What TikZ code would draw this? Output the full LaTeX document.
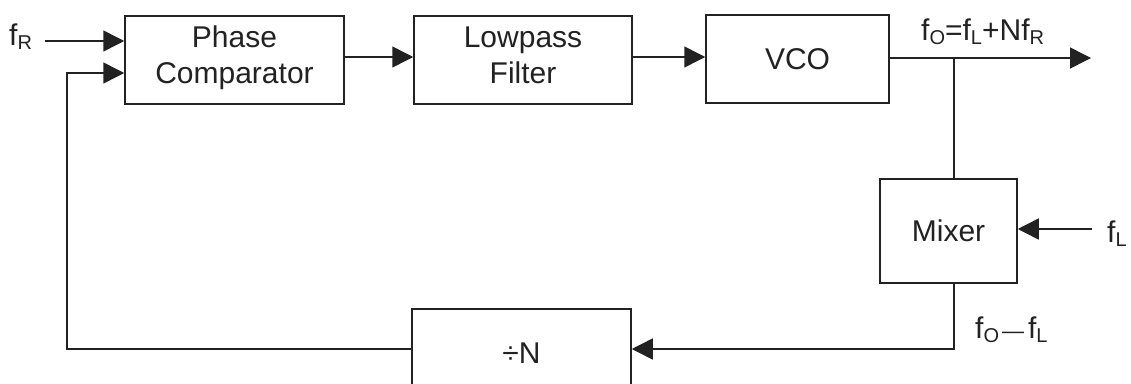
\documentclass[tikz,border=0pt]{standalone}
\usepackage{fontspec}
\setmainfont{Liberation Sans}
\usetikzlibrary{arrows.meta}
% lowered, smaller subscript for signal names
\newcommand{\sbs}[1]{\raisebox{-4.5pt}{\fontsize{20}{20}\selectfont #1}}
\definecolor{ink}{HTML}{222222}

\begin{document}
\begin{tikzpicture}[x=1pt,y=-1pt,
  blk/.style={draw=ink, line width=1.5pt, fill=white, inner sep=0pt, text=ink,
              font=\fontsize{30}{36}\selectfont, align=center},
  wire/.style={draw=ink, line width=1.5pt},
  arr/.style={wire, -{Triangle[length=21pt,width=21pt]}},
  lbl/.style={inner sep=0pt, text=ink, font=\fontsize{30}{34}\selectfont, anchor=base west}]
\clip (0,0) rectangle (1131,383);
\fill[white] (0,0) rectangle (1131,383);

% blocks of the loop
\node[blk, minimum width=219pt, minimum height=88pt] (pc) at (234.5,60)
  {\rule{0pt}{22pt}Phase\\Comparator\rule[-12pt]{0pt}{12pt}};
\node[blk, minimum width=218pt, minimum height=88pt] (lp) at (523,60)
  {\rule{0pt}{22pt}Lowpass\\Filter\rule[-12pt]{0pt}{12pt}};
\node[blk, minimum width=183pt, minimum height=88pt] (vco) at (797.5,59) {VCO};
\node[blk, minimum width=137pt, minimum height=104pt] (mix) at (948.5,231) {Mixer};
\node[blk, minimum width=219pt, minimum height=88pt] (div) at (521.5,353) {÷N};

% signal labels
\node[lbl] (fR) at (9,45) {f\sbs{R}};
\node[lbl] (fout) at (921,40) {f\sbs{O}=f\sbs{L}+Nf\sbs{R}};
\node[lbl] (fL) at (1107,242) {f\sbs{L}};
\node[lbl] (fdiff) at (975,338) {f\sbs{O}\kern3pt{\fontsize{22}{22}\selectfont —}\kern4pt f\sbs{L}};

% connector end and bend points
\coordinate (rin) at (45,41);
\coordinate (j) at (954,58);
\coordinate (out) at (1091,58);
\coordinate (lin) at (1092,229);
\coordinate (fb) at (67,349);
\coordinate (fbt) at (67,73);
\coordinate (mb) at (954,349);

% connectors
\draw[arr] (rin) -- (rin -| pc.west);
\draw[arr] ([yshift=3pt]pc.east) -- ([yshift=3pt]pc.east -| lp.west);
\draw[arr] ([yshift=3pt]lp.east) -- ([yshift=3pt]lp.east -| vco.west);
\draw[arr] (vco.east |- j) -- (out);
\draw[wire] (j) -- (j |- mix.north);
\draw[arr] (lin) -- (lin -| mix.east);
\draw[arr] (j |- mix.south) -- (mb) -- (mb -| div.east);
\draw[arr] (fb -| div.west) -- (fb) -- (fbt) -- (fbt -| pc.west);
\end{tikzpicture}
\end{document}
